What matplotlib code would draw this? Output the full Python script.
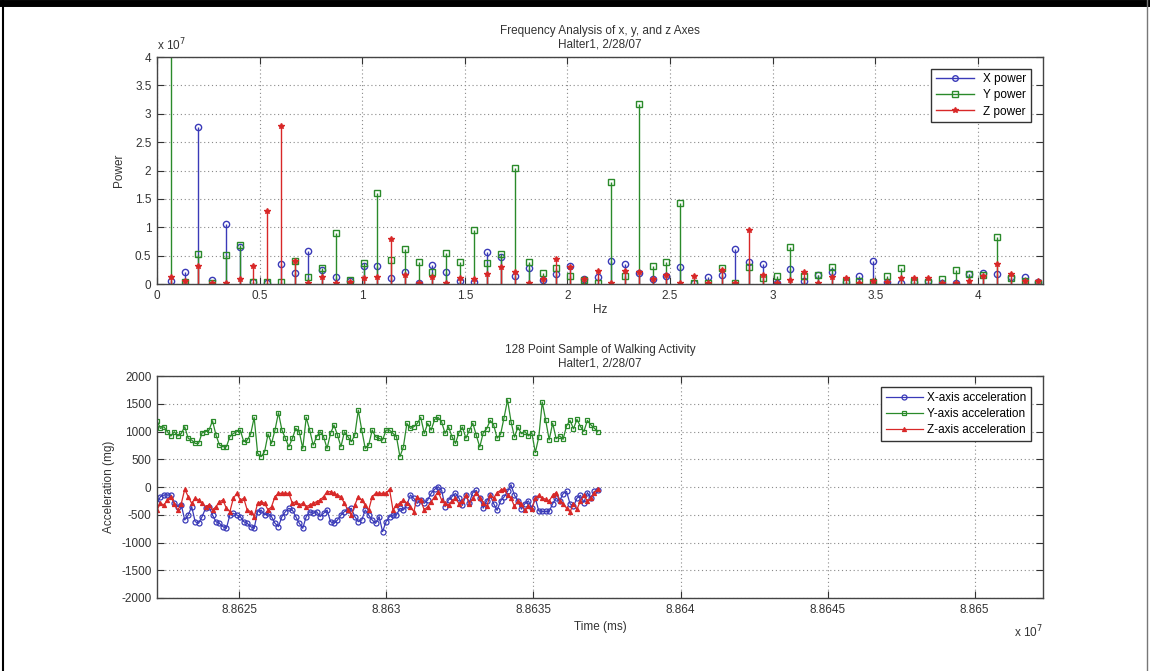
import matplotlib
matplotlib.use("Agg")
import matplotlib.pyplot as plt
import numpy as np
from matplotlib.lines import Line2D

plt.rcParams['font.family'] = ['Liberation Sans', 'DejaVu Sans']
plt.rcParams['font.size'] = 8
plt.rcParams['axes.unicode_minus'] = False

# --- frequency spectrum (power, units of 1e7), bins k = 1..64 ---
freq_step = 0.0671  # Hz per bin
x_power = [0.05, 0.21, 2.76, 0.07, 1.06, 0.66, 0.03, 0.02, 0.35, 0.19,
           0.58, 0.24, 0.12, 0.06, 0.32, 0.32, 0.10, 0.22, 0.02, 0.34,
           0.22, 0.05, 0.04, 0.56, 0.48, 0.14, 0.29, 0.07, 0.17, 0.32,
           0.08, 0.12, 0.40, 0.35, 0.20, 0.08, 0.14, 0.30, 0.02, 0.12,
           0.16, 0.61, 0.38, 0.35, 0.02, 0.26, 0.05, 0.16, 0.22, 0.04,
           0.14, 0.41, 0.03, 0.02, 0.04, 0.05, 0.02, 0.02, 0.17, 0.19,
           0.17, 0.12, 0.12, 0.03]
y_power = [4.60, 0.03, 0.53, 0.01, 0.52, 0.68, 0.04, 0.04, 0.04, 0.41,
           0.13, 0.29, 0.90, 0.07, 0.37, 1.60, 0.42, 0.62, 0.38, 0.22,
           0.54, 0.38, 0.95, 0.37, 0.53, 2.04, 0.38, 0.20, 0.29, 0.14,
           0.07, 0.02, 1.79, 0.14, 3.18, 0.32, 0.38, 1.42, 0.01, 0.02,
           0.29, 0.02, 0.30, 0.10, 0.14, 0.65, 0.14, 0.16, 0.30, 0.06,
           0.05, 0.03, 0.14, 0.28, 0.06, 0.04, 0.08, 0.24, 0.18, 0.16,
           0.83, 0.10, 0.06, 0.02]
z_power = [0.13, 0.05, 0.32, 0.02, 0.01, 0.09, 0.31, 1.29, 2.78, 0.41,
           0.02, 0.13, 0.01, 0.03, 0.10, 0.12, 0.79, 0.16, 0.01, 0.13,
           0.01, 0.10, 0.09, 0.18, 0.30, 0.22, 0.02, 0.08, 0.44, 0.30,
           0.08, 0.23, 0.01, 0.23, 0.22, 0.09, 0.16, 0.02, 0.14, 0.02,
           0.25, 0.01, 0.96, 0.16, 0.01, 0.07, 0.22, 0.02, 0.12, 0.11,
           0.02, 0.06, 0.03, 0.10, 0.10, 0.10, 0.02, 0.02, 0.05, 0.14,
           0.36, 0.17, 0.06, 0.06]

# --- 128 point walking sample (mg) ---
time_start = 8.86222e7   # ms
sample_period = 118.0    # ms
x_acc = [-294, -174, -144, -144, -144, -294, -354, -324, -594, -504,
         -354, -624, -654, -534, -384, -354, -504, -624, -654, -714,
         -744, -504, -474, -504, -534, -624, -654, -714, -744, -444,
         -414, -504, -474, -534, -654, -714, -534, -444, -384, -414,
         -534, -654, -744, -534, -444, -474, -444, -534, -474, -414,
         -624, -654, -594, -504, -444, -414, -384, -534, -624, -594,
         -414, -504, -594, -654, -534, -804, -624, -534, -504, -504,
         -384, -414, -324, -144, -204, -294, -234, -294, -234, -114,
         -42, 6, -54, -354, -234, -174, -114,
         -200, -330, -150, -280, -100, -60, -200, -380, -250, -150,
         -300, -420, -250, -180, -80, 40, -150, -250, -400, -300,
         -250, -380, -200, -430, -440, -440, -440, -300, -200, -250,
         -120, -80, -300, -350, -200, -150, -280, -100, -200, -80,
         -60]
y_acc = [1194, 1056, 1086, 996, 918, 996, 918, 966, 1086, 876,
         846, 786, 786, 978, 996, 1026, 1194, 936, 756, 726,
         726, 906, 966, 996, 1026, 816, 846, 954, 1254, 606,
         546, 636, 954, 786, 1026, 1338, 1026, 876, 726, 876,
         1056, 996, 696, 1254, 1026, 756, 906, 996, 906, 696,
         966, 1116, 936, 726, 996, 906, 816, 936, 1386, 1026,
         696, 756, 1026, 906, 876, 846, 1026, 1026, 966, 906,
         546, 726, 1146, 1056, 1086, 1146, 1254, 966, 1146, 1026,
         1218, 1254, 1176, 966, 1086, 906, 786,
         980, 1080, 880, 1020, 1150, 930, 720, 980, 1050, 1200,
         1120, 880, 950, 1250, 1570, 1180, 900, 1080, 960, 1000,
         920, 980, 620, 900, 1530, 1200, 850, 1150, 870, 920,
         860, 1100, 1200, 1050, 1220, 1090, 1000, 1200, 1120, 1060,
         1000]
z_acc = [-414, -294, -324, -234, -174, -300, -414, -300, -40, -174,
         -294, -204, -234, -294, -354, -324, -414, -354, -264, -234,
         -384, -444, -204, -114, -234, -204, -414, -444, -534, -294,
         -264, -294, -414, -354, -174, -114, -114, -114, -114, -294,
         -264, -324, -294, -354, -324, -294, -264, -234, -174, -84,
         -84, -114, -144, -174, -294, -414, -504, -324, -174, -234,
         -324, -414, -174, -114, -114, -114, -114, -40, -414, -324,
         -294, -234, -294, -354, -444, -174, -234, -414, -354, -264,
         -174, -84, -234, -294, -324, -250, -200,
         -300, -250, -150, -300, -200, -100, -200, -280, -350, -150,
         -200, -100, -60, -30, -150, -200, -350, -250, -300, -420,
         -350, -400, -200, -150, -200, -220, -250, -150, -100, -250,
         -300, -380, -450, -300, -400, -250, -150, -250, -200, -100,
         -40]

c_blue = '#3a3ab8'
c_green = '#2a8a2a'
c_red = '#d82828'
txt = '#333333'

freqs = freq_step * np.arange(1, len(x_power) + 1)
times = time_start + sample_period * np.arange(len(x_acc))

fig = plt.figure(figsize=(11.5, 6.71), dpi=100)
ax1 = fig.add_axes([0.1365, 0.5767, 0.7704, 0.3383])
ax2 = fig.add_axes([0.1365, 0.1088, 0.7704, 0.3308])


def style(ax):
    ax.grid(True, color='#8a8a8a', linestyle=(0, (1, 2.5)), linewidth=0.8)
    ax.tick_params(direction='in', top=True, right=True, length=5,
                   colors=txt, labelsize=8.5, pad=4)
    for s in ax.spines.values():
        s.set_color('#444444')
        s.set_linewidth(1.0)


# top: stem plot
for vals, col, mk, ms in [(x_power, c_blue, 'o', 4.5),
                          (y_power, c_green, 's', 4.5),
                          (z_power, c_red, '*', 4.0)]:
    ml, sl, bl = ax1.stem(freqs, vals, basefmt=' ')
    sl.set_color(col)
    sl.set_linewidth(1.0)
    ml.set_marker(mk)
    ml.set_markersize(ms)
    ml.set_markeredgecolor(col)
    ml.set_markerfacecolor('none' if mk != '*' else col)
    ml.set_markeredgewidth(1.0)

ax1.set_xlim(0, 4.317)
ax1.set_ylim(0, 4)
ax1.set_xticks(np.arange(0, 4.01, 0.5))
ax1.set_xticklabels(['0', '0.5', '1', '1.5', '2', '2.5', '3', '3.5', '4'])
ax1.set_yticks(np.arange(0, 4.01, 0.5))
ax1.set_yticklabels(['0', '0.5', '1', '1.5', '2', '2.5', '3', '3.5', '4'])
style(ax1)
ax1.set_xlabel('Hz', color=txt, fontsize=8.5, labelpad=2)
ax1.set_ylabel('Power', color=txt, fontsize=8.5, labelpad=7)
ax1.set_title('Frequency Analysis of x, y, and z Axes\nHalter1, 2/28/07',
              color=txt, fontsize=8.5, pad=7, linespacing=1.2)
ax1.text(0.0, 1.015, r'x 10$^7$', transform=ax1.transAxes, color=txt,
         fontsize=8.5, ha='left', va='bottom')
h1 = [Line2D([], [], color=c_blue, marker='o', ms=4, mfc='none', lw=1),
      Line2D([], [], color=c_green, marker='s', ms=4, mfc='none', lw=1),
      Line2D([], [], color=c_red, marker='*', ms=4, lw=1)]
leg1 = ax1.legend(h1, ['X power', 'Y power', 'Z power'], loc='upper right',
                  fontsize=8.5, fancybox=False, edgecolor='#333333',
                  framealpha=1, handlelength=3.2, borderpad=0.4,
                  labelspacing=0.35, bbox_to_anchor=(0.993, 0.975))
leg1.get_frame().set_linewidth(1.0)

# bottom: time series
ax2.plot(times, x_acc, color=c_blue, marker='o', ms=3.6, mfc='none',
         mew=0.9, lw=0.9, label='X-axis acceleration')
ax2.plot(times, y_acc, color=c_green, marker='s', ms=3.4, mfc='none',
         mew=0.9, lw=0.9, label='Y-axis acceleration')
ax2.plot(times, z_acc, color=c_red, marker='^', ms=3.0, mew=0.8,
         lw=0.9, label='Z-axis acceleration')
ax2.set_xlim(8.86222e7, 8.865232e7)
ax2.set_ylim(-2000, 2000)
xt = [8.8625e7, 8.863e7, 8.8635e7, 8.864e7, 8.8645e7, 8.865e7]
ax2.set_xticks(xt)
ax2.set_xticklabels(['8.8625', '8.863', '8.8635', '8.864', '8.8645', '8.865'])
ax2.set_yticks(np.arange(-2000, 2001, 500))
style(ax2)
ax2.set_xlabel('Time (ms)', color=txt, fontsize=8.5, labelpad=4)
ax2.set_ylabel('Acceleration (mg)', color=txt, fontsize=8.5, labelpad=4)
ax2.set_title('128 Point Sample of Walking Activity\nHalter1, 2/28/07',
              color=txt, fontsize=8.5, pad=7, linespacing=1.2)
ax2.text(1.0, -0.115, r'x 10$^7$', transform=ax2.transAxes, color=txt,
         fontsize=8.5, ha='right', va='top')
leg2 = ax2.legend(loc='upper right', fontsize=8.5, fancybox=False,
                  edgecolor='#333333', framealpha=1, handlelength=3.2,
                  borderpad=0.4, labelspacing=0.35, handletextpad=0.3,
                  bbox_to_anchor=(0.993, 0.975))
leg2.get_frame().set_linewidth(1.0)

# frame around the whole picture
fig.add_artist(Line2D([0, 1], [0.995, 0.995], transform=fig.transFigure,
                      color='black', lw=5))
fig.add_artist(Line2D([0.003, 0.003], [0, 1], transform=fig.transFigure,
                      color='black', lw=1.5))
fig.add_artist(Line2D([0.997, 0.997], [0, 1], transform=fig.transFigure,
                      color='#777777', lw=1.0))

fig.savefig('out.png', dpi=100)
